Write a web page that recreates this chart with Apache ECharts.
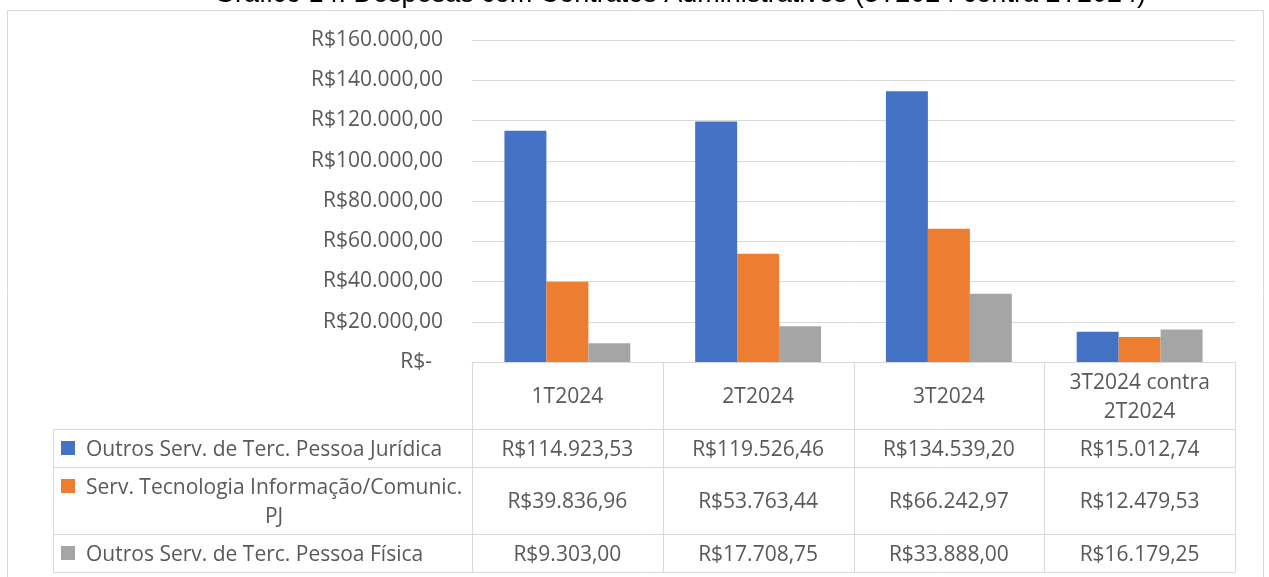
<!DOCTYPE html>
<html>
<head>
<meta charset="utf-8">
<script src="https://cdn.jsdelivr.net/npm/echarts@6/dist/echarts.min.js"></script>
<style>
  html, body { margin: 0; padding: 0; background: #fff; }
  #chart { width: 1269px; height: 577px; }
</style>
</head>
<body>
<div id="chart"></div>
<script>
// data
var titleText = 'Gráfico 14: Despesas com Contratos Administrativos (3T2024 contra 2T2024)'
var categories = ['1T2024', '2T2024', '3T2024', '3T2024 contra 2T2024']
var categoryLines = [['1T2024'], ['2T2024'], ['3T2024'], ['3T2024 contra', '2T2024']]
var seriesNames = [
  'Outros Serv. de Terc. Pessoa Jurídica',
  'Serv. Tecnologia Informação/Comunic. PJ',
  'Outros Serv. de Terc. Pessoa Física'
]
var seriesLines = [
  ['Outros Serv. de Terc. Pessoa Jurídica'],
  ['Serv. Tecnologia Informação/Comunic.', 'PJ'],
  ['Outros Serv. de Terc. Pessoa Física']
]
var pjValues = [114923.53, 119526.46, 134539.20, 15012.74]
var ticValues = [39836.96, 53763.44, 66242.97, 12479.53]
var pfValues = [9303.00, 17708.75, 33888.00, 16179.25]
var yTicks = [0, 20000, 40000, 60000, 80000, 100000, 120000, 140000, 160000]

var colors = ['#4472C4', '#ED7D31', '#A5A5A5']
var allValues = [pjValues, ticValues, pfValues]
var textColor = '#595959'
var lineColor = '#d9d9d9'
var font = '"Open Sans", sans-serif'
var fontSize = 21

// table layout
var headerHeight = 67
var rowHeights = [38, 67, 38]
var tableLeft = 53
var lineHeight = 29
var textNudge = 2

function brl (v, dec) {
  if (v === 0) return 'R$-  '
  var parts = v.toFixed(dec).split('.')
  var int = parts[0].replace(/\B(?=(\d{3})+(?!\d))/g, '.')
  return 'R$' + int + (dec ? ',' + parts[1] : '')
}

var chart = echarts.init(document.getElementById('chart'))

var option = {
  backgroundColor: '#fff',
  animation: false,
  grid: { left: 472, right: 34, top: 40, bottom: 215 },
  xAxis: {
    type: 'category',
    data: categories,
    axisLine: { show: true, lineStyle: { color: lineColor, width: 1 } },
    axisTick: { show: false },
    axisLabel: { show: false }
  },
  yAxis: {
    type: 'value',
    min: yTicks[0],
    max: yTicks[yTicks.length - 1],
    interval: 20000,
    axisLine: { show: false },
    axisTick: { show: false },
    splitLine: { lineStyle: { color: lineColor, width: 1 } },
    axisLabel: {
      margin: 29,
      color: textColor,
      fontFamily: font,
      fontSize: fontSize,
      padding: [4, 0, 0, 0],
      formatter: function (v) { return brl(v, 2) }
    }
  },
  series: seriesNames.map(function (name, i) {
    return {
      name: name,
      type: 'bar',
      data: allValues[i],
      barGap: '0%',
      barCategoryGap: '34%',
      itemStyle: { color: colors[i] }
    }
  })
}
chart.setOption(option)

function drawTable () {
  var c0 = chart.convertToPixel({ xAxisIndex: 0 }, 0)
  var c1 = chart.convertToPixel({ xAxisIndex: 0 }, 1)
  var band = c1 - c0
  var bounds = categories.map(function (c, i) {
    return chart.convertToPixel({ xAxisIndex: 0 }, i) - band / 2
  })
  bounds.push(bounds[bounds.length - 1] + band)
  var yAxisPx = Math.round(chart.convertToPixel({ yAxisIndex: 0 }, 0))

  var els = []
  var line = function (x1, y1, x2, y2) {
    els.push({
      type: 'line',
      shape: { x1: x1, y1: y1, x2: x2, y2: y2 },
      style: { stroke: lineColor, lineWidth: 1 },
      silent: true
    })
  }
  var text = function (x, y, str, align) {
    els.push({
      type: 'text',
      style: {
        x: x, y: y + textNudge, text: str, fill: textColor,
        font: fontSize + 'px ' + font,
        align: align || 'center', verticalAlign: 'middle',
        lineHeight: lineHeight
      },
      silent: true
    })
  }

  // outer frame
  els.push({
    type: 'rect',
    shape: { x: 7.5, y: 10.5, width: 1256, height: 620 },
    style: { fill: 'none', stroke: lineColor, lineWidth: 1 },
    silent: true
  })
  // title, cut by the top edge
  els.push({
    type: 'text',
    style: {
      x: 680, y: -5, text: titleText, fill: '#000',
      font: '27px "Liberation Sans", Arial, sans-serif',
      align: 'center', verticalAlign: 'middle'
    },
    silent: true
  })

  var rowTops = [yAxisPx + headerHeight]
  rowHeights.forEach(function (h, i) { rowTops.push(rowTops[i] + h) })
  var bottom = rowTops[rowTops.length - 1]
  var left = bounds[0]
  var right = bounds[bounds.length - 1]

  // horizontal lines
  line(left, yAxisPx + 0.5, right, yAxisPx + 0.5)
  rowTops.forEach(function (y) { line(tableLeft + 0.5, y + 0.5, right, y + 0.5) })
  // vertical lines
  line(tableLeft + 0.5, rowTops[0], tableLeft + 0.5, bottom + 0.5)
  bounds.forEach(function (x) {
    var xx = Math.round(x) + 0.5
    line(xx, yAxisPx, xx, bottom + 0.5)
  })

  // header cells
  categoryLines.forEach(function (lines, i) {
    var cx = (bounds[i] + bounds[i + 1]) / 2
    text(cx, yAxisPx + headerHeight / 2, lines.join('\n'))
  })

  // measure for centered wrapped labels
  var ctx = document.createElement('canvas').getContext('2d')
  ctx.font = fontSize + 'px ' + font

  seriesNames.forEach(function (name, s) {
    var top = rowTops[s]
    var h = rowHeights[s]
    var cy = top + h / 2
    var lines = seriesLines[s]
    var firstY = cy - (lines.length - 1) * lineHeight / 2
    // legend key
    els.push({
      type: 'rect',
      shape: { x: 61, y: Math.round(firstY) - 7, width: 14, height: 14 },
      style: { fill: colors[s] },
      silent: true
    })
    var w = ctx.measureText(lines[0]).width
    text(86 + w / 2, cy, lines.join('\n'), 'center')
    // values
    allValues[s].forEach(function (v, i) {
      var cx = (bounds[i] + bounds[i + 1]) / 2
      text(cx, cy, brl(v, 2))
    })
  })

  chart.setOption({ graphic: { elements: els } })
}
drawTable()
</script>
</body>
</html>
